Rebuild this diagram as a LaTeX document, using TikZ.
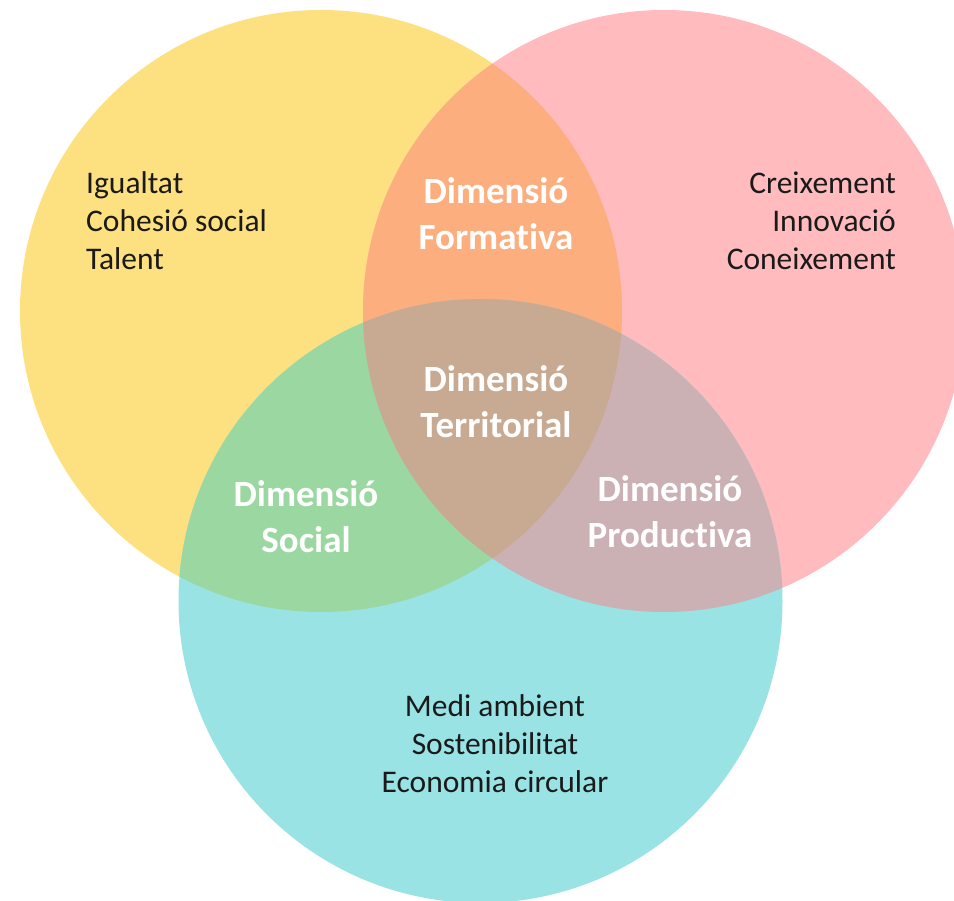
\documentclass[tikz,border=0pt]{standalone}
\usepackage{fontspec}
\setmainfont[Ligatures=NoCommon]{Carlito}
\definecolor{cy}{RGB}{253,224,127}
\definecolor{cp}{RGB}{255,187,189}
\definecolor{cc}{RGB}{154,227,229}
\definecolor{cyp}{RGB}{252,174,126}
\definecolor{cyc}{RGB}{155,215,160}
\definecolor{cpc}{RGB}{203,176,180}
\definecolor{call}{RGB}{200,169,145}
\definecolor{txt}{RGB}{26,26,26}
\begin{document}
\begin{tikzpicture}[x=1pt,y=-1pt,
  plain/.style={inner sep=0pt,text=txt,font=\fontsize{31.5}{38}\selectfont},
  dim/.style={inner sep=0pt,text=white,align=center,font=\fontsize{37}{46}\bfseries\selectfont}]
\useasboundingbox (0,0) rectangle (954,901);
\begin{scope}
\clip (0,0) rectangle (954,901);
\def\Y{(321,311) circle (301)}
\def\P{(664,311) circle (301)}
\def\C{(480.5,601) circle (302)}
\fill[cy] \Y;
\fill[cp] \P;
\fill[cc] \C;
\begin{scope}\clip \Y; \fill[cyp] \P; \end{scope}
\begin{scope}\clip \Y; \fill[cyc] \C; \end{scope}
\begin{scope}\clip \P; \fill[cpc] \C; \end{scope}
\begin{scope}\clip \Y; \clip \P; \fill[call] \C; \end{scope}
\end{scope}
\node[plain,align=left,anchor=west] (ty) at (86,221) {Igualtat\\Cohesió social\\Talent};
\node[plain,align=right,anchor=east] (tp) at (896,221) {Creixement\\Innovació\\Coneixement};
\node[plain,align=center] (tc) at (495,744) {Medi ambient\\Sostenibilitat\\Economia circular};
\node[dim] (df) at (496,214) {Dimensió\\Formativa};
\node[dim] (dt) at (496,402) {Dimensió\\Territorial};
\node[dim] (ds) at (306,517) {Dimensió\\Social};
\node[dim] (dp) at (670,512) {Dimensió\\Productiva};
\end{tikzpicture}
\end{document}
